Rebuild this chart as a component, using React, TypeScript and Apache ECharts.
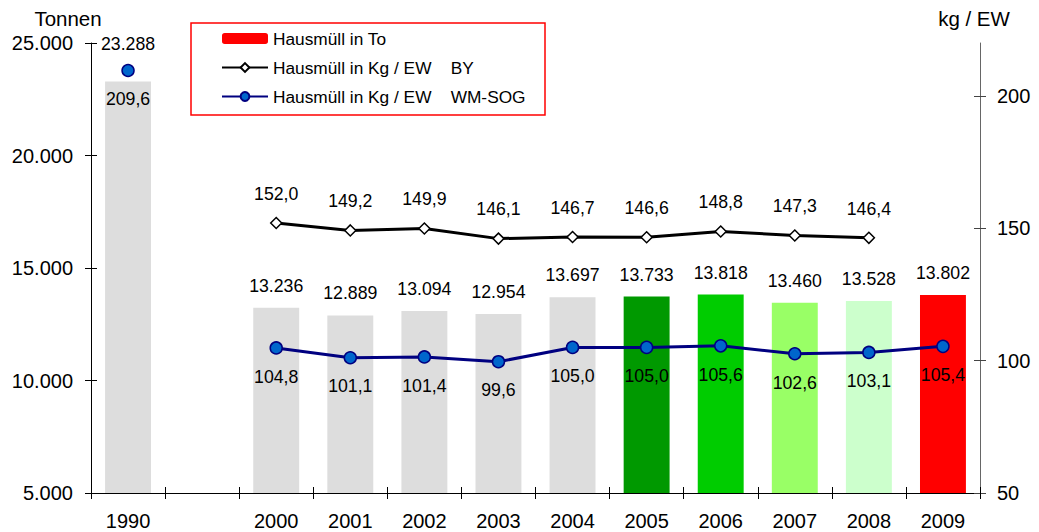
import React, { useEffect, useRef } from "react";
import * as echarts from "echarts";

const categories = ["1990", "", "2000", "2001", "2002", "2003", "2004", "2005", "2006", "2007", "2008", "2009"];
const tonnen = [23288, null, 13236, 12889, 13094, 12954, 13697, 13733, 13818, 13460, 13528, 13802];
const kgBY = [null, null, 152.0, 149.2, 149.9, 146.1, 146.7, 146.6, 148.8, 147.3, 146.4, null];
const kgWM = [209.6, null, 104.8, 101.1, 101.4, 99.6, 105.0, 105.0, 105.6, 102.6, 103.1, 105.4];
const barColors = ["#DDDDDD", "#DDDDDD", "#DDDDDD", "#DDDDDD", "#DDDDDD", "#DDDDDD", "#DDDDDD", "#009900", "#00CC00", "#99FF66", "#CCFFCC", "#FF0000"];
const leftTicks = [5000, 10000, 15000, 20000, 25000];
const rightTicks = [50, 100, 150, 200];
const seriesNames = ["Hausmüll in To", "Hausmüll in Kg / EW    BY", "Hausmüll in Kg / EW    WM-SOG"];

const FONT = "'Liberation Sans', Arial, sans-serif";

const fmtThousands = (v: number) => String(Math.round(v)).replace(/\B(?=(\d{3})+(?!\d))/g, ".");
const fmtDec = (v: number) => v.toFixed(1).replace(".", ",");

export default function App() {
  const ref = useRef<HTMLDivElement>(null);
  useEffect(() => {
    if (!ref.current) return;
    const chart = echarts.init(ref.current, null, { renderer: "svg" });
    const barData = tonnen.map((v, i) => {
      if (v == null) return null;
      const item: any = { value: v, itemStyle: { color: barColors[i] } };
      if (i === 0) item.label = { distance: 29 };
      return item;
    });
    const option: any = {
      animation: false,
      backgroundColor: "#ffffff",
      textStyle: { fontFamily: FONT },
      grid: { left: 91, right: 59, top: 43, bottom: 39, containLabel: false },
      legend: {
        orient: "vertical",
        left: 221,
        top: 30,
        padding: 0,
        itemWidth: 46,
        itemHeight: 11,
        itemGap: 12,
        textStyle: { fontSize: 17.3, color: "#000", fontFamily: FONT, lineHeight: 17 },
        data: seriesNames,
      },
      graphic: [
        {
          type: "rect",
          shape: { x: 191, y: 23, width: 354, height: 92 },
          style: { fill: "none", stroke: "#FF0000", lineWidth: 1.5 },
          z: 1,
        },
        {
          type: "text",
          x: 68,
          y: 18,
          style: { text: "Tonnen", fontSize: 20.5, fill: "#000", fontFamily: FONT, align: "center", verticalAlign: "middle" },
        },
        {
          type: "text",
          x: 974,
          y: 18,
          style: { text: "kg / EW", fontSize: 20.5, fill: "#000", fontFamily: FONT, align: "center", verticalAlign: "middle" },
        },
      ],
      xAxis: [
        {
          type: "category",
          data: categories,
          position: "bottom",
          axisLine: { show: true, lineStyle: { color: "#000", width: 1 } },
          axisTick: { show: true, length: 6, interval: 0, lineStyle: { color: "#000" } },
          axisLabel: { interval: 0, fontSize: 20, color: "#000", margin: 18, fontFamily: FONT },
          splitLine: { show: false },
        },
        {
          type: "category",
          data: categories,
          position: "bottom",
          axisLine: { show: false },
          axisTick: { show: true, inside: true, length: 6, interval: 0, lineStyle: { color: "#000" } },
          axisLabel: { show: false },
          splitLine: { show: false },
        },
      ],
      yAxis: [
        {
          type: "value",
          position: "left",
          min: 5000,
          max: 25000,
          interval: 5000,
          axisLine: { show: true, lineStyle: { color: "#000", width: 1 } },
          axisTick: { show: true, length: 6, lineStyle: { color: "#000" } },
          axisLabel: { fontSize: 20, color: "#000", margin: 18, fontFamily: FONT, formatter: (v: number) => fmtThousands(v), customValues: leftTicks },
          splitLine: { show: false },
        },
        {
          type: "value",
          position: "right",
          min: 50,
          max: 220,
          interval: 50,
          axisLine: { show: true, lineStyle: { color: "#666", width: 1 } },
          axisTick: { show: true, length: 6, lineStyle: { color: "#444" }, customValues: rightTicks },
          axisLabel: {
            fontSize: 20,
            color: "#000",
            margin: 17,
            fontFamily: FONT,
            customValues: rightTicks,
            formatter: (v: number) => (v > 200 ? "" : String(v)),
          },
          splitLine: { show: false },
        },
        {
          type: "value",
          position: "left",
          min: 5000,
          max: 25000,
          interval: 5000,
          axisLine: { show: false },
          axisTick: { show: true, inside: true, length: 6, lineStyle: { color: "#000" } },
          axisLabel: { show: false },
          splitLine: { show: false },
        },
        {
          type: "value",
          position: "right",
          min: 50,
          max: 220,
          interval: 50,
          axisLine: { show: false },
          axisTick: { show: true, inside: true, length: 6, lineStyle: { color: "#444" }, customValues: rightTicks },
          axisLabel: { show: false },
          splitLine: { show: false },
        },
      ],
      series: [
        {
          name: seriesNames[0],
          type: "bar",
          xAxisIndex: 0,
          yAxisIndex: 0,
          barWidth: "62%",
          itemStyle: { color: "#FF0000" },
          data: barData,
          label: {
            show: true,
            position: "top",
            distance: 13,
            fontSize: 17.7,
            color: "#000",
            fontFamily: FONT,
            formatter: (p: any) => fmtThousands(p.value),
          },
          z: 2,
        },
        {
          name: seriesNames[1],
          type: "line",
          xAxisIndex: 0,
          yAxisIndex: 1,
          data: kgBY,
          connectNulls: false,
          symbol: "diamond",
          symbolSize: 11,
          showAllSymbol: true,
          lineStyle: { color: "#000", width: 3 },
          itemStyle: { color: "#fff", borderColor: "#000", borderWidth: 1.5 },
          label: {
            show: true,
            position: "top",
            distance: 14,
            fontSize: 17.7,
            color: "#000",
            fontFamily: FONT,
            formatter: (p: any) => fmtDec(p.value),
          },
          z: 4,
        },
        {
          name: seriesNames[2],
          type: "line",
          xAxisIndex: 0,
          yAxisIndex: 1,
          data: kgWM,
          connectNulls: false,
          symbol: "circle",
          symbolSize: 12,
          showAllSymbol: true,
          lineStyle: { color: "#000080", width: 3 },
          itemStyle: { color: "#0066CC", borderColor: "#000080", borderWidth: 1.5 },
          label: {
            show: true,
            position: "bottom",
            distance: 13,
            fontSize: 17.7,
            color: "#000",
            fontFamily: FONT,
            formatter: (p: any) => fmtDec(p.value),
          },
          z: 4,
        },
      ],
    };
    chart.setOption(option);
    return () => chart.dispose();
  }, []);
  return <div ref={ref} style={{ position: "absolute", left: 0, top: 0, width: 1039, height: 532 }} />;
}
